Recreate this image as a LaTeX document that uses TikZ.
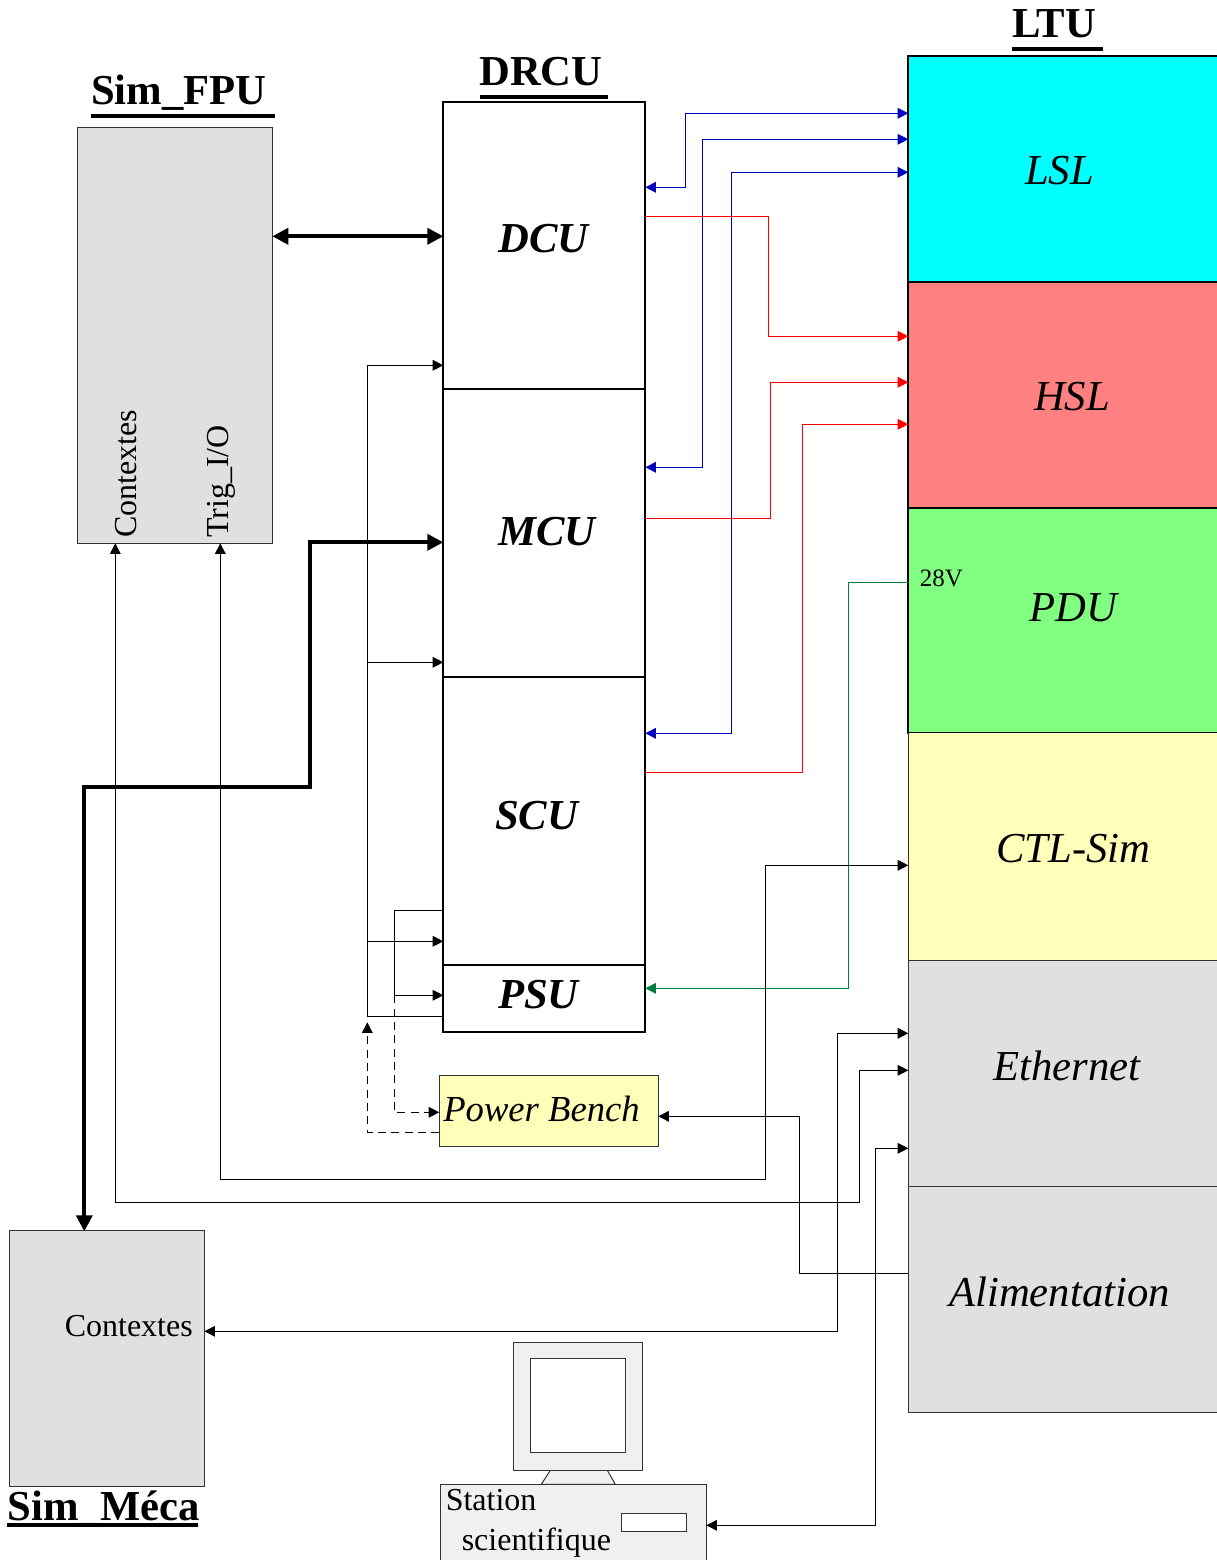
\documentclass[tikz,border=0pt]{standalone}
\usepackage{fontspec}
\setmainfont{Liberation Serif}
\usetikzlibrary{arrows.meta}
\definecolor{greybox}{HTML}{E0E0E0}
\definecolor{lightbox}{HTML}{F0F0F0}
\definecolor{paleyellow}{HTML}{FFFFB9}
\definecolor{salmon}{HTML}{FF8080}
\definecolor{palegreen}{HTML}{80FF80}
\definecolor{aqua}{HTML}{00FFFF}
\definecolor{bluewire}{HTML}{0000C0}
\definecolor{greenwire}{HTML}{008040}
\tikzset{
  x=0.75pt, y=-0.75pt,
  frame/.style={draw=black, line width=1.75pt},
  thinframe/.style={draw=black!80, line width=0.75pt},
  wire/.style={line width=0.8pt, -{Triangle[length=8pt,width=8pt]}},
  wireboth/.style={line width=0.8pt, {Triangle[length=8pt,width=8pt]}-{Triangle[length=8pt,width=8pt]}},
  bigwire/.style={line width=2.75pt, {Triangle[length=12pt,width=12pt]}-{Triangle[length=12pt,width=12pt]}},
  longdash/.style={dash pattern=on 6pt off 4pt},
  heading/.style={font=\fontsize{32}{32}\selectfont\bfseries, anchor=base west, inner sep=0pt},
  unit/.style={font=\fontsize{32}{32}\selectfont\bfseries\itshape, inner sep=0pt},
  ltulabel/.style={font=\fontsize{32}{32}\selectfont\itshape, inner sep=0pt},
  small/.style={font=\fontsize{24}{24}\selectfont, anchor=base west, inner sep=0pt},
  rule/.style={line width=3pt},
}
\newcommand{\bx}[6]{\node[#6, inner sep=0pt, outer sep=0pt,
  minimum width={(#4-#2)*0.75pt}, minimum height={(#5-#3)*0.75pt}]
  (#1) at ({(#2+#4)/2},{(#3+#5)/2}) {};}
\begin{document}
\begin{tikzpicture}
\useasboundingbox (-0.3,-0.3) rectangle (1216.7,1559.7);
% LTU
\bx{lsl}{908}{56}{1219}{282}{frame, fill=aqua}
\bx{hsl}{908}{282}{1219}{508}{frame, fill=salmon}
\bx{pdu}{908}{508}{1219}{733}{frame, fill=palegreen}
\bx{ctl}{908}{733}{1219}{960}{fill=paleyellow}
\bx{eth}{908}{960}{1219}{1186}{thinframe, fill=greybox}
\bx{ali}{908}{1186}{1219}{1412}{thinframe, fill=greybox}
\draw[frame] (lsl.north west) -- (pdu.south west);
\draw[thinframe] (ctl.north west) -- (ctl.south west);
% DRCU
\bx{dcu}{443}{102}{645}{389}{frame}
\bx{mcu}{443}{389}{645}{677}{frame}
\bx{scu}{443}{677}{645}{965}{frame}
\bx{psu}{443}{965}{645}{1032}{frame}
% Others
\bx{fpu}{77}{127}{272}{543}{thinframe, fill=greybox}
\bx{meca}{9}{1230}{204}{1486}{thinframe, fill=greybox}
\bx{bench}{439}{1075}{658}{1146}{thinframe, fill=paleyellow}
% Workstation
\draw[thinframe, fill=lightbox] (550,1470) -- (607,1470) -- (615,1484) -- (541,1484) -- cycle;
\bx{monitor}{513}{1342}{642}{1470}{thinframe, fill=lightbox}
\bx{screen}{530}{1358}{625}{1452}{thinframe, fill=white}
\bx{station}{440}{1484}{706}{1562}{thinframe, fill=lightbox}
\bx{slot}{621}{1513}{686}{1531}{thinframe, fill=white}
\begin{scope}[shift={(-0.8,-0.8)}]
% Headings
\node[heading] (hfpu) at (91.5,104.5) {Sim\_FPU};
\node[heading] (hdrcu) at (479.5,85.5) {DRCU};
\node[heading] (hltu) at (1012.5,37.5) {LTU};
\node[heading] (hmeca) at (8,1521) {Sim\_Méca};
\draw[rule] (91,116.5) -- (275,116.5);
\draw[rule] (480,97) -- (608,97);
\draw[rule] (1012,49) -- (1103,49);
\draw[rule] (8,1525) -- (198,1525);
% Unit labels
\node[unit] (tdcu) at (544,239) {DCU};
\node[unit] (tmcu) at (547.5,532) {MCU};
\node[unit] (tscu) at (537,816) {SCU};
\node[unit] (tpsu) at (539,995) {PSU};
\node[ltulabel] (tlsl) at (1060,171) {LSL};
\node[ltulabel] (thsl) at (1072.5,397) {HSL};
\node[ltulabel] (tpdu) at (1073.5,608) {PDU};
\node[ltulabel] (tctl) at (1074,849) {CTL-Sim};
\node[ltulabel] (teth) at (1067.5,1066) {Ethernet};
\node[ltulabel] (tali) at (1060,1292) {Alimentation};
\node[font=\fontsize{27.5}{27.5}\selectfont\itshape, anchor=base west, inner sep=0pt] (tbench) at (443.5,1121.5) {Power Bench};
\node[small] (tctx) at (65,1336.5) {Contextes};
\node[small, rotate=90] (tctxf) at (136.5,538.5) {Contextes};
\node[small, rotate=90] (ttrig) at (229,538.5) {Trig\_I/O};
\node[font=\fontsize{18.75}{18.75}\selectfont, anchor=base west, inner sep=0pt] (t28) at (920,587) {28V};
\node[small] (tst1) at (446,1511) {Station};
\node[small] (tst2) at (462,1551) {scientifique};
\end{scope}
% Thick buses
\draw[bigwire] (fpu.east |- 0,236) -- (dcu.west |- 0,236);
\draw[bigwire] (mcu.west |- 0,542) -- (310,542) -- (310,787) -- (84,787) -- (84,1231);
% Blue links
\begin{scope}[draw=bluewire, color=bluewire]
\draw[wireboth] (dcu.east |- 0,187) -- (685,187) -- (685,113) -- (lsl.west |- 0,113);
\draw[wireboth] (mcu.east |- 0,467) -- (702,467) -- (702,139) -- (lsl.west |- 0,139);
\draw[wireboth] (scu.east |- 0,733) -- (731,733) -- (731,172) -- (lsl.west |- 0,172);
\end{scope}
% Red links
\begin{scope}[draw=red, color=red]
\draw[wire] (dcu.east |- 0,216) -- (768,216) -- (768,336) -- (hsl.west |- 0,336);
\draw[wire] (mcu.east |- 0,518) -- (770,518) -- (770,382) -- (hsl.west |- 0,382);
\draw[wire] (scu.east |- 0,772) -- (802,772) -- (802,424) -- (hsl.west |- 0,424);
\end{scope}
% Green link
\draw[wire, draw=greenwire, color=greenwire] (pdu.west |- 0,582) -- (848,582) -- (848,988) -- (psu.east |- 0,988);
% Power distribution, left of DRCU
\draw[wire] (psu.west |- 0,1016) -- (367,1016) -- (367,365) -- (dcu.west |- 0,365);
\draw[wire] (367,662) -- (mcu.west |- 0,662);
\draw[wire] (367,941) -- (scu.west |- 0,941);
\draw[wire] (scu.west |- 0,910) -- (394,910) -- (394,995) -- (psu.west |- 0,995);
\coordinate (dashjoin) at (394,995);
\coordinate (dashtip) at (367,1022);
\draw[wire, longdash] (dashjoin) -- (394,1112) -- (bench.west |- 0,1112);
\draw[wire, longdash] (bench.west |- 0,1132) -- (367,1132) -- (dashtip);
% Long links
\draw[wireboth] (ctl.west |- 0,865) -- (765,865) -- (765,1179) -- (220,1179) -- (fpu.south -| 220,0);
\draw[wireboth] (eth.west |- 0,1070) -- (859,1070) -- (859,1202) -- (115,1202) -- (fpu.south -| 115,0);
\draw[wireboth] (eth.west |- 0,1033) -- (837,1033) -- (837,1331) -- (meca.east |- 0,1331);
\draw[wireboth] (eth.west |- 0,1148) -- (875,1148) -- (875,1525) -- (station.east |- 0,1525);
\draw[wire] (ali.west |- 0,1273) -- (799,1273) -- (799,1116) -- (bench.east |- 0,1116);
\end{tikzpicture}
\end{document}
